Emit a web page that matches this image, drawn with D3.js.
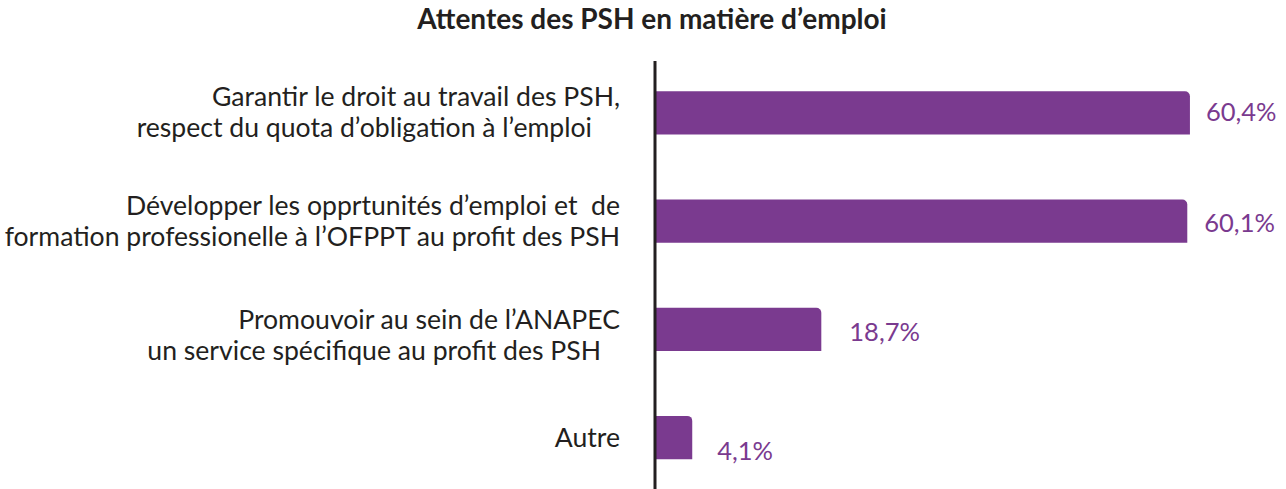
<!DOCTYPE html>
<html>
<head>
<meta charset="utf-8">
<script src="https://cdn.jsdelivr.net/npm/d3@7"></script>
<style>
  html, body { margin: 0; padding: 0; background: #ffffff; }
  svg { display: block; }
  text { font-family: "Lato", "Noto Sans", sans-serif; }
</style>
</head>
<body>
<svg id="chart" width="1286" height="489"></svg>
<script>
// ---- data ----
const title = "Attentes des PSH en matière d\u2019emploi";
const categories = [
  ["Garantir le droit au travail des PSH,", "respect du quota d\u2019obligation à l\u2019emploi"],
  ["Développer les opprtunités d\u2019emploi et  de", "formation professionelle à l\u2019OFPPT au profit des PSH"],
  ["Promouvoir au sein de l\u2019ANAPEC", "un service spécifique au profit des PSH"],
  ["Autre"]
];
const values = [60.4, 60.1, 18.7, 4.1];
const valueLabels = ["60,4%", "60,1%", "18,7%", "4,1%"];

// ---- layout ----
const W = 1286, H = 489;
const axisX = 656;
const purple = "#7a3a8f";
const ink = "#231f20";

// small hand placements of the value labels (dx, dy), as in the printed layout
const valueNudge = [[0, -2], [1, 1], [12, 2], [9, 12]];
// per-line horizontal shifts and block shifts of the category labels
const lineShift = [[0, -28], [0, 0], [0, -19], [0]];
const blockShift = [0, 0, 6, 0];

const svg = d3.select("#chart");

const x = d3.scaleLinear().domain([0, 70]).range([axisX, axisX + 618.8]);
const y = d3.scaleBand()
  .domain(d3.range(values.length))
  .range([58.9, 491.6])
  .paddingInner(0.6)
  .paddingOuter(0.3);

// title
svg.append("text")
  .attr("x", 652)
  .attr("y", 29)
  .attr("text-anchor", "middle")
  .attr("font-size", 28)
  .attr("font-weight", 700)
  .attr("fill", ink)
  .text(title);

// bars with a rounded top-right corner
const r = 5;
svg.append("g").selectAll("path")
  .data(values)
  .join("path")
  .attr("fill", purple)
  .attr("d", (d, i) => {
    const x0 = x(0) - 2, x1 = x(d);
    const y0 = y(i), y1 = y(i) + y.bandwidth();
    return `M${x0},${y0}H${x1 - r}A${r},${r} 0 0 1 ${x1},${y0 + r}V${y1}H${x0}Z`;
  });

// value labels
svg.append("g").selectAll("text")
  .data(values)
  .join("text")
  .attr("x", (d, i) => x(d) + 16 + valueNudge[i][0])
  .attr("y", (d, i) => y(i) + y.bandwidth() / 2 + 10 + valueNudge[i][1])
  .attr("font-size", 25.5)
  .attr("fill", purple)
  .text((d, i) => valueLabels[i]);

// category labels, right-aligned against the axis
const lineGap = 31;
const catG = svg.append("g");
categories.forEach((lines, i) => {
  const cy = y(i) + y.bandwidth() / 2 + blockShift[i];
  const first = cy - (lines.length - 1) * lineGap / 2 + 9;
  const t = catG.append("text")
    .attr("text-anchor", "end")
    .attr("font-size", 26.6)
    .attr("fill", ink)
    .style("white-space", "pre");
  lines.forEach((ln, j) => {
    t.append("tspan")
      .attr("x", 620 + lineShift[i][j])
      .attr("y", first + j * lineGap)
      .text(ln);
  });
});

// vertical axis line
svg.append("line")
  .attr("x1", 655).attr("x2", 655)
  .attr("y1", 61).attr("y2", H)
  .attr("stroke", ink)
  .attr("stroke-width", 3);
</script>
</body>
</html>
